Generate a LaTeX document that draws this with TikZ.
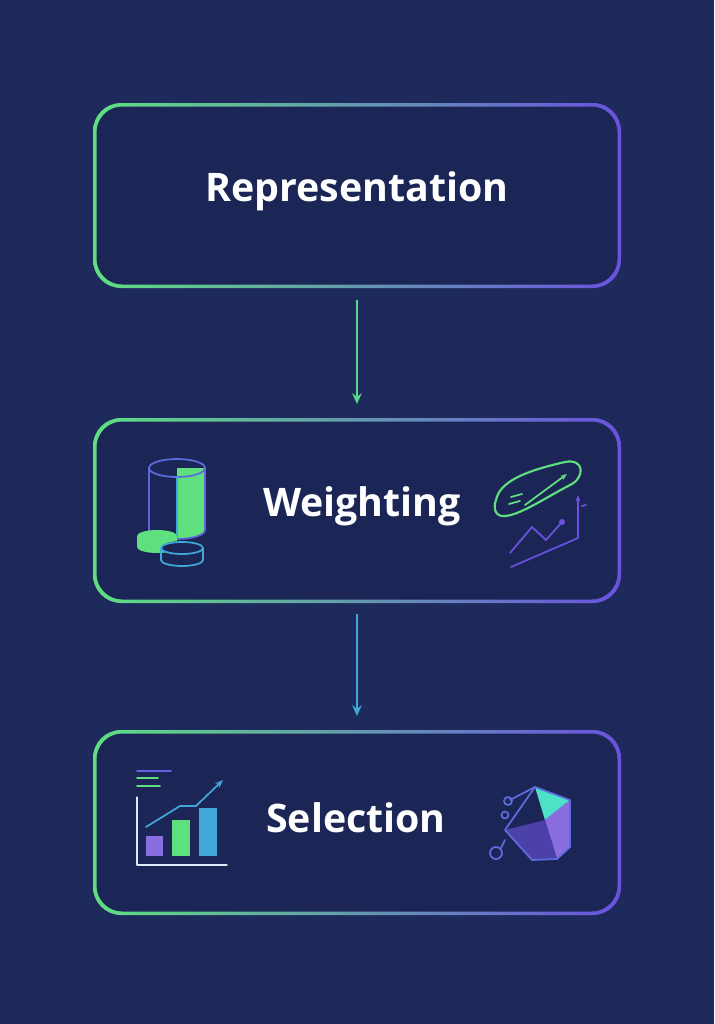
\documentclass[tikz,border=0pt]{standalone}
\usepackage{fontspec}
\setmainfont{Open Sans}
\usetikzlibrary{arrows.meta}
\definecolor{bg}{HTML}{1E2A5C}
\definecolor{inner}{HTML}{1C2656}
\definecolor{gr}{HTML}{5EE07F}
\definecolor{pu}{HTML}{6A52E0}
\definecolor{cy}{HTML}{3FA8D8}
\definecolor{tq}{HTML}{4FE0C8}
\definecolor{lv}{HTML}{8A6EE0}
\tikzset{x=0.75pt,y=-0.75pt,
 lbl/.style={text=white,font=\bfseries\fontsize{29.5}{34}\selectfont},
 arr/.style={line width=1.6pt,-{Stealth[length=8pt,width=7pt]}},
 ic/.style={line width=1.3pt,line cap=round,line join=round}}
\newcommand{\gbox}[3]{%
 \shade[rounded corners=28*0.75pt,shading angle=#3,left color=gr,right color=pu] (93,#1) rectangle (621,#2);
 \fill[inner,rounded corners=26*0.75pt] (96.5,#1+3.5) rectangle (617.5,#2-3.5);}
\begin{document}
\begin{tikzpicture}
\fill[bg] (0,0) rectangle (714,1024);
\useasboundingbox (0,0) rectangle (714,1024);
\gbox{103}{288}{100}
\gbox{418}{603}{100}
\gbox{730}{915}{100}
\node[lbl] (r) at (357,191) {Representation};
\node[lbl] (w) at (362,506) {Weighting};
\node[lbl] (s) at (356,818) {Selection};
\coordinate (b1) at (357,300); \coordinate (t2) at (357,404);
\coordinate (b2) at (357,614); \coordinate (t3) at (357,716);
\draw[arr,gr!85!cy] (b1) -- (t2);
\draw[arr,cy] (b2) -- (t3);
% cylinder
\fill[gr] (177,468) -- (205,468) -- (205,530) arc[start angle=0,end angle=90,x radius=28,y radius=9] -- cycle;
\draw[ic,pu!80!cy] (149,468) -- (149,530) arc[start angle=180,end angle=0,x radius=28,y radius=9] -- (205,468);
\draw[ic,pu!70!cy] (177,468) ellipse[x radius=28,y radius=9];
\draw[ic,cy] (177,477) -- (177,538);
\fill[gr] (137,536) -- (137,547) arc[start angle=180,end angle=0,x radius=20,y radius=6] -- (177,536) arc[start angle=0,end angle=-180,x radius=20,y radius=6];
\fill[inner] (182,548) ellipse[x radius=21,y radius=7];
\draw[ic,cy] (161,548) -- (161,560) arc[start angle=180,end angle=0,x radius=21,y radius=6] -- (203,548);
\draw[ic,cy] (182,548) ellipse[x radius=21,y radius=6];
% right weighting icon
\draw[ic,gr,line width=1.6pt] (496,500) .. controls (500,480) and (530,470) .. (565,462) .. controls (585,458) and (585,478) .. (570,485) .. controls (545,498) and (520,515) .. (505,516) .. controls (495,517) and (493,508) .. (496,500);
\draw[ic,gr] (511,497) -- (522,494) (509,504) -- (520,501);
\draw[ic,gr,-{Stealth[length=5pt]}] (525,505) -- (567,474);
\draw[ic,pu] (510,553) -- (532,527) -- (546,540) -- (562,522);
\fill[pu] (562,522) circle (3);
\draw[ic,pu,-{Stealth[length=5pt]}] (511,567) -- (578,538) -- (578,495);
\draw[ic,pu] (582,506) -- (586,505);
% bar chart
\draw[ic,pu!80!cy] (137,771) -- (171,771);
\draw[ic,gr] (137,778) -- (158,778) (137,786) -- (160,786);
\draw[ic,white!80!cy,line width=0.8pt] (137,797) -- (137,865) -- (227,865);
\fill[lv] (146,836) rectangle (163,856);
\fill[gr] (172,820) rectangle (190,856);
\fill[cy] (199,808) rectangle (217,856);
\draw[ic,cy,-{Stealth[length=6pt]}] (146,827) -- (180,806) -- (196,806) -- (223,780);
% hex pie
\fill[tq] (535,787) -- (570,800) -- (545,820) -- cycle;
\fill[lv] (570,800) -- (570,847) -- (557,859) -- (545,820) -- cycle;
\fill[pu!60!inner] (505,830) -- (545,820) -- (557,859) -- (532,860) -- cycle;
\draw[ic,pu!70!cy] (535,787) -- (570,800) -- (570,847) -- (557,859) -- (532,860) -- (505,830) -- cycle;
\draw[ic,pu!70!cy] (535,787) -- (510,800);
\draw[ic,pu!70!cy] (508,801) circle (4) (505,815) circle (3.5) (496,853) circle (6) (501,848) -- (505,840);
\end{tikzpicture}
\end{document}
